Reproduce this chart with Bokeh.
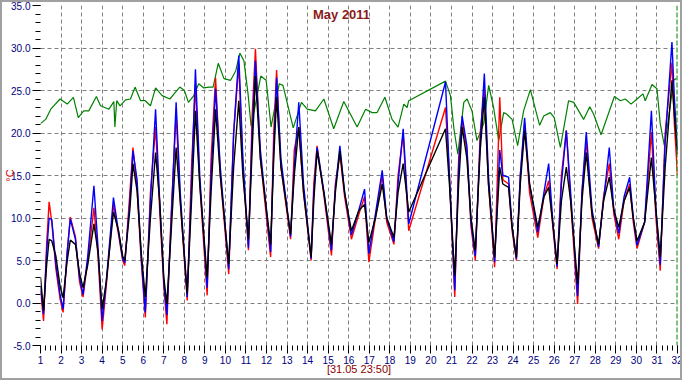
from bokeh.plotting import figure
from bokeh.models import Range1d, FixedTicker, NumeralTickFormatter, Label, Span
from bokeh.embed import file_html
from bokeh.resources import INLINE

# ---- data (day of month, 1 = 1 May 00:00, 32 = 1 June 00:00) ----
days = [1.0, 1.15, 1.3, 1.42, 1.55, 1.75, 1.95,
        2.1, 2.3, 2.45, 2.7, 2.9,
        3.07, 3.3, 3.6, 3.8,
        4.0, 4.2, 4.55, 4.8,
        5.0, 5.1, 5.35, 5.5, 5.7, 5.9,
        6.1, 6.35, 6.6, 6.8,
        7.0, 7.15, 7.35, 7.6, 7.8,
        8.14, 8.35, 8.54, 8.75,
        9.11, 9.3, 9.52, 9.75,
        10.16, 10.4, 10.65, 10.85,
        11.12, 11.3, 11.46, 11.7,
        12.2, 12.35, 12.49, 12.7,
        13.17, 13.35, 13.57, 13.8,
        14.17, 14.3, 14.46, 14.8,
        15.16, 15.35, 15.57, 15.8,
        16.13, 16.5, 16.77, 16.98,
        17.3, 17.63, 17.85,
        18.2, 18.4, 18.65, 18.92,
        20.71, 20.9,
        21.16, 21.35, 21.52, 21.75, 21.95,
        22.16, 22.4, 22.6, 22.8,
        23.1, 23.35, 23.5, 23.78, 23.95,
        24.16, 24.35, 24.56, 24.8,
        25.2, 25.5, 25.73, 25.95,
        26.14, 26.35, 26.59, 26.8,
        27.14, 27.35, 27.56, 27.84,
        28.16, 28.4, 28.68, 28.9,
        29.14, 29.4, 29.67, 29.85,
        30.03, 30.4, 30.73, 30.95,
        31.16, 31.4, 31.73, 31.85, 32.0]

temp_black = [3.0, -0.9, 4.5, 7.5, 7.3, 5.5, 2.0,
              0.6, 5.0, 7.4, 6.9, 3.5,
              1.8, 4.5, 9.3, 6.0,
              -0.7, 2.5, 10.7, 8.5,
              5.5, 5.0, 11.0, 16.4, 13.2, 6.0,
              0.7, 10.0, 17.7, 12.0,
              3.0, -0.1, 8.0, 18.3, 12.0,
              1.1, 12.0, 22.6, 14.0,
              3.0, 13.0, 22.8, 15.0,
              4.6, 16.0, 23.8, 15.0,
              7.5, 18.0, 26.7, 17.0,
              6.9, 17.0, 24.2, 16.0,
              8.1, 15.0, 20.7, 13.0,
              5.4, 12.0, 17.9, 12.8,
              6.9, 13.0, 17.9, 13.0,
              8.5, 10.9, 11.6, 7.1,
              10.0, 14.0, 10.0,
              7.7, 13.0, 16.4, 10.7,
              20.5, 14.0,
              3.2, 14.0, 20.7, 17.0, 10.0,
              6.2, 18.0, 24.2, 14.0,
              5.4, 16.0, 14.0, 13.6, 9.0,
              5.4, 14.0, 20.3, 14.0,
              8.9, 12.5, 13.6, 9.0,
              4.6, 12.0, 16.0, 12.0,
              2.2, 12.0, 17.7, 10.5,
              6.9, 12.0, 14.8, 11.0,
              8.9, 12.0, 13.6, 10.0,
              7.3, 9.5, 17.1, 11.0,
              5.4, 16.0, 26.2, 22.0, 17.5]

temp_red = [1.5, -2.1, 7.0, 11.9, 9.5, 4.0, 0.5,
            -1.1, 6.0, 10.1, 7.8, 2.5,
            0.7, 5.0, 11.2, 5.5,
            -3.1, 2.0, 11.6, 8.0,
            5.0, 4.4, 13.0, 18.3, 13.5, 5.0,
            -1.7, 13.0, 20.7, 11.0,
            2.0, -2.5, 10.0, 22.4, 12.0,
            0.3, 16.0, 25.6, 14.0,
            0.9, 17.0, 26.5, 15.0,
            3.4, 20.0, 28.1, 16.0,
            6.2, 22.0, 29.9, 17.0,
            5.4, 20.0, 27.4, 16.0,
            7.5, 18.0, 20.7, 13.0,
            5.0, 14.0, 18.5, 12.5,
            5.6, 14.0, 17.5, 12.5,
            7.5, 10.5, 12.5, 4.8,
            10.0, 15.0, 9.5,
            6.9, 15.0, 19.9, 8.5,
            23.0, 15.0,
            0.7, 17.0, 21.5, 18.0, 9.0,
            5.0, 20.0, 25.2, 14.0,
            4.2, 24.2, 14.5, 14.0, 8.5,
            5.0, 15.0, 21.1, 13.0,
            7.7, 12.5, 14.4, 8.5,
            4.0, 15.0, 20.3, 12.0,
            -0.1, 13.0, 19.1, 10.0,
            6.4, 12.5, 16.4, 10.5,
            7.5, 12.0, 14.0, 9.5,
            6.4, 9.5, 20.1, 10.0,
            3.8, 20.0, 28.3, 21.0, 15.0]

temp_blue = [2.0, -1.3, 6.0, 10.0, 9.8, 4.5, 1.0,
             -0.7, 6.0, 9.9, 7.5, 3.0,
             1.0, 5.5, 13.8, 6.5,
             -2.1, 2.5, 12.4, 8.3,
             5.2, 4.7, 12.0, 17.9, 14.5, 5.5,
             -1.1, 12.0, 22.8, 12.0,
             2.5, -1.4, 9.0, 23.6, 13.0,
             0.7, 14.0, 27.5, 15.0,
             1.8, 15.0, 25.2, 16.0,
             4.0, 20.0, 29.1, 17.0,
             6.5, 20.0, 28.5, 18.0,
             6.0, 18.0, 26.5, 17.0,
             7.8, 16.0, 23.6, 14.0,
             5.2, 13.0, 18.3, 13.0,
             6.2, 13.5, 18.5, 13.0,
             8.0, 11.0, 13.4, 5.8,
             10.5, 15.6, 10.0,
             7.2, 14.0, 20.5, 9.3,
             26.0, 15.0,
             1.5, 16.0, 22.0, 18.5, 9.5,
             5.5, 19.0, 27.0, 15.0,
             4.8, 18.0, 15.0, 14.8, 9.0,
             5.2, 15.0, 21.8, 14.0,
             8.3, 13.0, 16.4, 9.0,
             4.3, 14.0, 20.3, 13.0,
             0.8, 13.0, 20.1, 11.0,
             6.6, 12.0, 18.3, 11.0,
             8.2, 12.5, 14.8, 10.0,
             6.8, 9.5, 22.6, 11.0,
             4.5, 19.0, 30.7, 24.0, 18.0]

green_days = [1.0, 1.25, 1.5, 1.95, 2.3, 2.6, 2.84, 3.1, 3.35, 3.72, 3.92,
              4.33, 4.57, 4.62, 4.71, 4.87, 5.14, 5.38, 5.6, 5.87, 6.1, 6.35,
              6.6, 6.92, 7.3, 7.5, 7.78, 8.0, 8.2, 8.46, 8.7, 8.95, 9.2, 9.4,
              9.65, 9.93, 10.25, 10.5, 10.7, 10.9, 11.1, 11.25, 11.4, 11.72,
              11.98, 12.22, 12.62, 12.8, 13.3, 13.7, 13.98, 14.38, 14.79,
              15.27, 15.76, 16.41, 16.82, 17.14, 17.38, 17.76, 18.11, 18.4,
              18.68, 18.84, 18.92, 20.71, 20.95, 21.12, 21.31, 21.6, 21.76,
              22.0, 22.24, 22.57, 22.81, 23.05, 23.3, 23.54, 23.7, 23.95,
              24.22, 24.51, 24.84, 25.29, 25.49, 25.81, 26.0, 26.3, 26.7,
              26.95, 27.43, 27.73, 27.92, 28.28, 28.93, 29.22, 29.46, 29.74,
              30.03, 30.32, 30.43, 30.76, 31.0, 31.16, 31.36, 31.57, 31.81,
              31.94]

temp_green = [21.1, 21.6, 22.8, 24.0, 23.4, 24.2, 21.8, 22.6, 22.6, 24.3, 23.2,
              22.8, 23.7, 20.7, 23.8, 23.2, 23.9, 24.0, 25.4, 23.8, 23.8, 23.2,
              25.3, 24.4, 24.0, 24.6, 25.4, 25.0, 23.6, 24.4, 25.8, 25.3, 25.4, 25.4,
              28.2, 26.4, 26.2, 27.3, 29.4, 28.5, 24.6, 20.8, 22.6, 26.7,
              26.2, 20.7, 25.8, 25.6, 20.6, 23.6, 22.8, 22.6, 24.0,
              20.5, 23.7, 20.7, 22.8, 22.4, 22.4, 24.2, 21.6, 20.7,
              23.4, 23.0, 23.8, 26.1, 24.4, 20.5, 17.5, 23.6, 24.0,
              22.6, 19.1, 21.1, 25.6, 23.0, 19.1, 22.4, 22.2, 21.6,
              18.5, 22.6, 25.1, 20.9, 22.0, 22.4, 21.8, 18.3, 23.8,
              23.6, 21.6, 23.1, 22.2, 19.8, 24.3, 23.8, 24.0, 23.4,
              24.0, 24.6, 23.8, 25.7, 25.2, 21.1, 18.5, 21.8, 26.2,
              26.4]

day_ticks = list(range(1, 33))
temp_ticks = [-5, 0, 5, 10, 15, 20, 25, 30, 35]

TICK_COLOR = "#000080"
FONT = "Liberation Sans"

p = figure(width=682, height=380,
           x_range=Range1d(1, 32), y_range=Range1d(-5, 35),
           output_backend="svg", toolbar_location=None,
           min_border_left=40, min_border_right=5,
           min_border_top=5, min_border_bottom=35,
           background_fill_color="white", border_fill_color="white")
p.outline_line_color = None
p.stylesheets = [":host { position: relative; } "
                 ":host::after { content: ''; position: absolute; left: 0; top: 0; "
                 "right: 0; bottom: 0; border: 2px solid #a0a0a0; "
                 "pointer-events: none; z-index: 100; }"]

# axes
p.xaxis.ticker = FixedTicker(ticks=day_ticks,
                             minor_ticks=[1 + i * 0.25 for i in range(125)])
p.yaxis.ticker = FixedTicker(ticks=temp_ticks,
                             minor_ticks=list(range(-5, 36)))
p.yaxis.formatter = NumeralTickFormatter(format="0.0")
for ax in (p.xaxis, p.yaxis):
    ax.axis_line_color = None
    ax.major_tick_in = 0
    ax.major_tick_out = 8
    ax.minor_tick_in = 0
    ax.minor_tick_out = 5
    ax.major_tick_line_color = "black"
    ax.minor_tick_line_color = "black"
    ax.major_label_text_color = TICK_COLOR
    ax.major_label_text_font = FONT
    ax.major_label_text_font_size = "10px"
    ax.major_label_standoff = 2

p.xaxis.axis_label = "[31.05 23:50]"
p.xaxis.axis_label_text_color = "#8B0000"
p.xaxis.axis_label_text_font = FONT
p.xaxis.axis_label_text_font_size = "11px"
p.xaxis.axis_label_text_font_style = "normal"
p.xaxis.axis_label_standoff = -4

p.yaxis.axis_label = "°C"
p.yaxis.axis_label_text_color = "#CC0000"
p.yaxis.axis_label_text_font = FONT
p.yaxis.axis_label_text_font_size = "11px"
p.yaxis.axis_label_text_font_style = "normal"
p.yaxis.axis_label_standoff = -8

# grids
p.xgrid.ticker = FixedTicker(ticks=list(range(2, 32)))
p.ygrid.ticker = FixedTicker(ticks=[0, 5, 10, 15, 20, 25, 30])
for g in (p.xgrid, p.ygrid):
    g.grid_line_color = "#808080"
    g.grid_line_dash = "4 3"
    g.grid_line_width = 1

# series
p.line(green_days, temp_green, line_color="#008000", line_width=1.2)
p.line(days, temp_red, line_color="#FF0000", line_width=1.4)
p.line(days, temp_blue, line_color="#0000FF", line_width=1.4)
p.line(days, temp_black, line_color="#000000", line_width=1.4)

p.add_layout(Span(location=32, dimension="height", line_color="#008000",
                  line_dash="5 2", line_width=2))

p.add_layout(Label(x=15.65, y=34.0, text="May 2011", text_align="center",
                   text_baseline="middle", text_font=FONT,
                   text_font_style="bold", text_font_size="13px",
                   text_color="#8B1A1A"))

open("out.html", "w").write(file_html(p, INLINE))
